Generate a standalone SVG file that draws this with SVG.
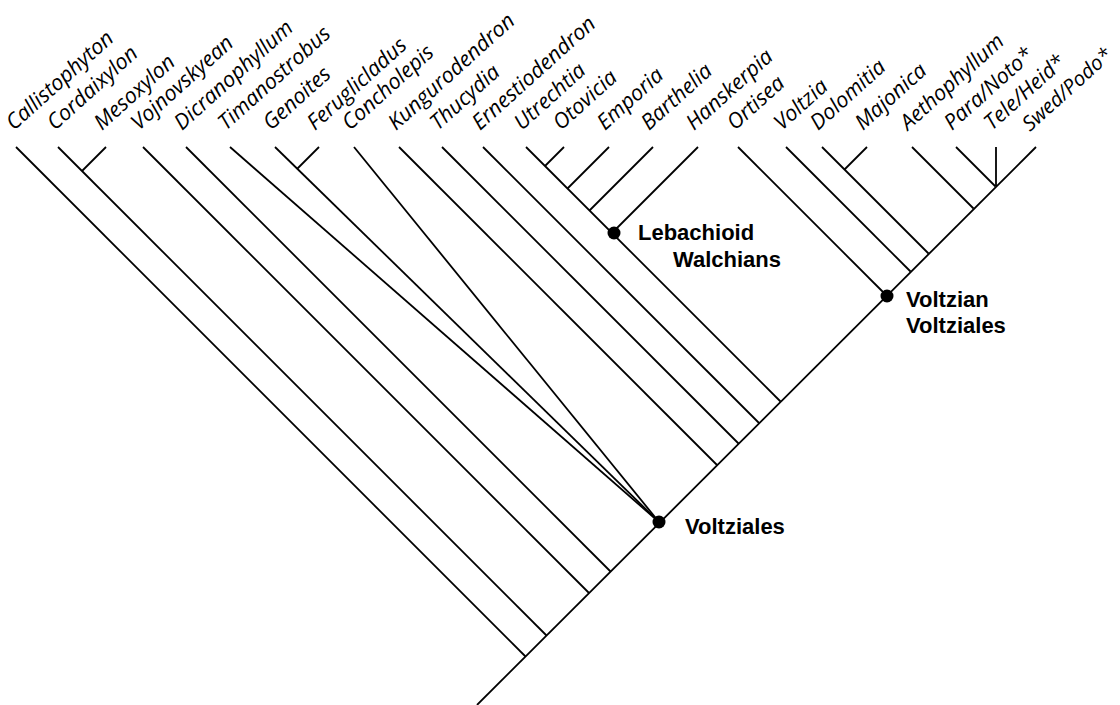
<svg xmlns="http://www.w3.org/2000/svg" width="1120" height="705" viewBox="0 0 1120 705">
<style>
.ln{stroke:#000;stroke-width:1.8;fill:none;stroke-linecap:butt}
.tx{font-family:"Open Sans","Noto Sans",sans-serif;font-style:italic;font-size:21.5px;fill:#000}
.bl{font-family:"Liberation Sans",Arial,sans-serif;font-weight:bold;font-size:22px;fill:#000}
</style>
<rect width="1120" height="705" fill="#fff"/>
<g id="connectors" class="ln">
<line x1="477" y1="705" x2="1036" y2="147"/>
<line x1="16" y1="147" x2="525.5" y2="656.5"/>
<line x1="58" y1="147" x2="546.5" y2="635.5"/>
<line x1="106" y1="147" x2="82" y2="171"/>
<line x1="143" y1="147" x2="589" y2="593"/>
<line x1="186" y1="147" x2="610.5" y2="571.5"/>
<line x1="230" y1="147" x2="659" y2="522"/>
<line x1="275" y1="147" x2="659" y2="522"/>
<line x1="319" y1="147" x2="297" y2="169"/>
<line x1="354" y1="147" x2="659" y2="522"/>
<line x1="399" y1="147" x2="717" y2="465"/>
<line x1="442" y1="147" x2="738.5" y2="443.5"/>
<line x1="483" y1="147" x2="759" y2="423"/>
<line x1="526" y1="147" x2="780.5" y2="401.5"/>
<line x1="564" y1="147" x2="545" y2="166"/>
<line x1="609" y1="147" x2="567.5" y2="188.5"/>
<line x1="653" y1="147" x2="589.5" y2="210.5"/>
<line x1="698" y1="147" x2="612" y2="233"/>
<line x1="738" y1="147" x2="887" y2="296"/>
<line x1="786" y1="147" x2="910.5" y2="271.5"/>
<line x1="822" y1="147" x2="928.5" y2="253.5"/>
<line x1="867" y1="147" x2="844.5" y2="169.5"/>
<line x1="912" y1="147" x2="973.5" y2="208.5"/>
<line x1="956" y1="147" x2="995.5" y2="186.5"/>
<line x1="996" y1="147" x2="996" y2="186"/>
</g>
<g id="taxa" class="tx">
<text transform="translate(14,131) rotate(-42)">Callistophyton</text>
<text transform="translate(55,131) rotate(-42)">Cordaixylon</text>
<text transform="translate(102,131) rotate(-42)">Mesoxylon</text>
<text transform="translate(139,131) rotate(-42)">Vojnovskyean</text>
<text transform="translate(182,131) rotate(-42)">Dicranophyllum</text>
<text transform="translate(226,131) rotate(-42)">Timanostrobus</text>
<text transform="translate(271,131) rotate(-42)">Genoites</text>
<text transform="translate(315,131) rotate(-42)">Feruglicladus</text>
<text transform="translate(350,131) rotate(-42)">Concholepis</text>
<text transform="translate(396,131) rotate(-42)">Kungurodendron</text>
<text transform="translate(438,131) rotate(-42)">Thucydia</text>
<text transform="translate(480,131) rotate(-42)">Ernestiodendron</text>
<text transform="translate(522,131) rotate(-42)">Utrechtia</text>
<text transform="translate(561,131) rotate(-42)">Otovicia</text>
<text transform="translate(605,131) rotate(-42)">Emporia</text>
<text transform="translate(649,131) rotate(-42)">Barthelia</text>
<text transform="translate(694,131) rotate(-42)">Hanskerpia</text>
<text transform="translate(735,131) rotate(-42)">Ortisea</text>
<text transform="translate(782,131) rotate(-42)">Voltzia</text>
<text transform="translate(818,131) rotate(-42)">Dolomitia</text>
<text transform="translate(863,131) rotate(-42)">Majonica</text>
<text transform="translate(908,131) rotate(-42)">Aethophyllum</text>
<text transform="translate(952,131) rotate(-42)">Para/Noto*</text>
<text transform="translate(992,131) rotate(-42)">Tele/Heid*</text>
<text transform="translate(1030,132) rotate(-42)" font-size="20.5">Swed/Podo*</text>
</g>
<g id="node-lebachioid">
<circle cx="614" cy="233" r="6.5"/>
<text class="bl" x="638" y="240">Lebachioid</text>
<text class="bl" x="673" y="267">Walchians</text>
</g>
<g id="node-voltzian">
<circle cx="887" cy="296" r="6.5"/>
<text class="bl" x="906" y="307">Voltzian</text>
<text class="bl" x="906" y="333">Voltziales</text>
</g>
<g id="node-voltziales">
<circle cx="659" cy="522" r="6.5"/>
<text class="bl" x="685" y="534">Voltziales</text>
</g>
</svg>
